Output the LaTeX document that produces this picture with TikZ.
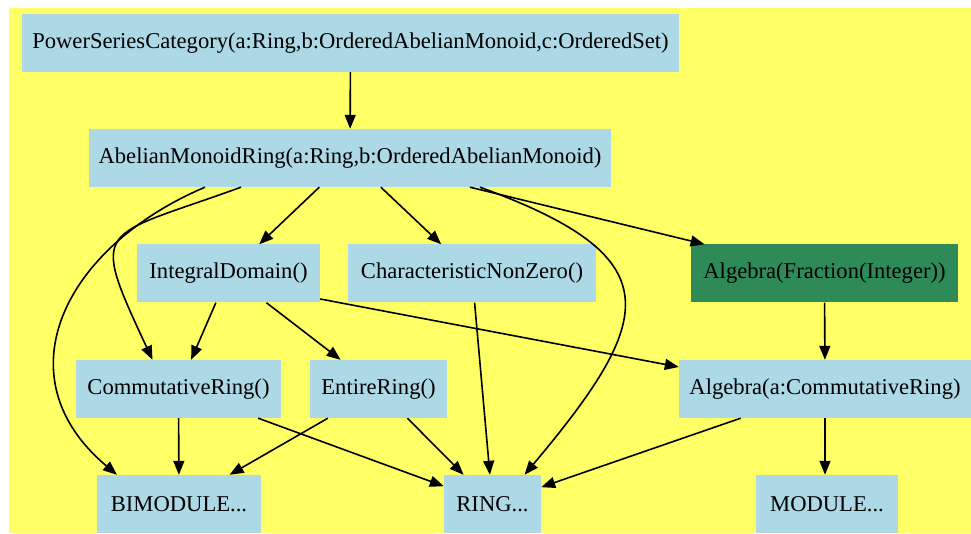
\documentclass[tikz,border=0pt]{standalone}
\usepackage{fontspec}
\setmainfont{Liberation Serif}
\usepackage{tikz}
\usetikzlibrary{arrows.meta,positioning}

\definecolor{bgyellow}{HTML}{FFFF66}
\definecolor{catblue}{HTML}{ADD8E6}
\definecolor{catgreen}{HTML}{2E8B57}

\begin{document}
\begin{tikzpicture}[
            x=1pt, y=1pt,
            cat/.style={rectangle, fill=catblue, inner sep=0pt, minimum height=58pt,
                        align=center, font=\fontsize{22.6}{26}\selectfont},
            dom/.style={cat, fill=catgreen},
            arrow/.style={-{Triangle[length=14pt, width=11pt]}, line width=1.6pt}
        ]
            \useasboundingbox (0,0) rectangle (971,533);
            \fill[bgyellow] (9,0) rectangle (971,525);

            % Top rows
            \node[cat, minimum width=657pt] (psc) at (350.5,490) {PowerSeriesCategory(a:Ring,b:OrderedAbelianMonoid,c:OrderedSet)};
            \node[cat, minimum width=522pt] (amr) at (350,375) {AbelianMonoidRing(a:Ring,b:OrderedAbelianMonoid)};

            % Middle rows
            \node[cat, minimum width=183pt] (idom) at (228.5,259.5) {IntegralDomain()};
            \node[cat, minimum width=248pt] (cnz) at (472,259.5) {CharacteristicNonZero()};
            \node[dom, minimum width=267pt] (algfrac) at (824.5,259.5) {Algebra(Fraction(Integer))};
            \node[cat, minimum width=205pt] (comm) at (178.5,144) {CommutativeRing()};
            \node[cat, minimum width=137pt] (entire) at (378.5,144) {EntireRing()};
            \node[cat, minimum width=292pt] (algcr) at (825,144) {Algebra(a:CommutativeRing)};

            % Bottom row
            \node[cat, minimum width=164pt] (bim) at (179,29) {BIMODULE...};
            \node[cat, minimum width=97pt] (ring) at (492.5,29) {RING...};
            \node[cat, minimum width=142pt] (mod) at (827,29) {MODULE...};

            % Arrows
            \draw[arrow] (psc) -- (amr);
            \draw[arrow] (amr) -- (idom);
            \draw[arrow] (amr) -- (cnz);
            \draw[arrow] (amr) -- (algfrac);
            \draw[arrow] ([xshift=130pt]amr.south) to[out=-20, in=50, looseness=1.8] ([xshift=32pt]ring.north);
            \draw[arrow] ([xshift=-109pt]amr.south) to[out=200, in=115, looseness=2] ([xshift=-26pt]comm.north);
            \draw[arrow] ([xshift=-145pt]amr.south) to[out=203, in=140, looseness=1.3] ([xshift=-62pt]bim.north);
            \draw[arrow] (idom) -- (comm);
            \draw[arrow] (idom) -- (entire);
            \draw[arrow] ([yshift=-25.5pt]idom.east) -- ([yshift=22pt]algcr.west);
            \draw[arrow] (cnz) -- (ring);
            \draw[arrow] (algfrac) -- (algcr);
            \draw[arrow] (comm) -- (bim);
            \draw[arrow] (comm) -- (ring);
            \draw[arrow] (entire) -- (bim);
            \draw[arrow] (entire) -- (ring);
            \draw[arrow] (algcr) -- (ring);
            \draw[arrow] (algcr.south) -- (mod.north -| algcr.south);
        \end{tikzpicture}
\end{document}
